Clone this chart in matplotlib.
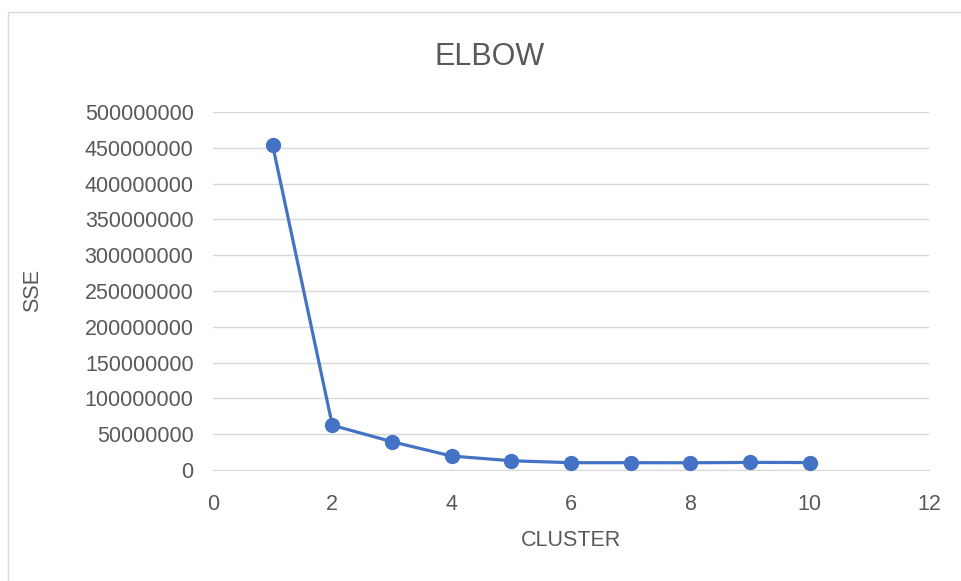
import matplotlib
matplotlib.use("Agg")
import matplotlib.pyplot as plt
from matplotlib.patches import Rectangle

# data
clusters = [1, 2, 3, 4, 5, 6, 7, 8, 9, 10]
sse = [453500000, 62500000, 39500000, 19500000, 12900000,
       10200000, 10200000, 10100000, 10600000, 10400000]
x_ticks = [0, 2, 4, 6, 8, 10, 12]
y_ticks = list(range(0, 500000001, 50000000))

text_col = "#595959"
grid_col = "#D9D9D9"
line_col = "#4472C4"
font = "Liberation Sans"
W, H = 961, 581

fig = plt.figure(figsize=(W / 100, H / 100), dpi=100)
ax = fig.add_axes([213 / W, 1 - 470 / H, (929 - 213) / W, (470 - 112) / H])

# outer chart border
fig.patches.append(Rectangle((8 / W, -0.05), 1.1, 1 - 12 / H + 0.05,
                             transform=fig.transFigure, fill=False,
                             edgecolor=grid_col, linewidth=1))

ax.plot(clusters, sse, color=line_col, linewidth=2.3, marker="o",
        markersize=10, zorder=3, clip_on=False)

ax.set_xlim(0, 12)
ax.set_ylim(0, 500000000)
ax.set_xticks(x_ticks)
ax.set_yticks(y_ticks)
ax.set_xticklabels([str(v) for v in x_ticks])
ax.set_yticklabels([str(v) for v in y_ticks])
ax.grid(axis="y", color=grid_col, linewidth=1)
ax.set_axisbelow(True)
for s in ["top", "right", "left"]:
    ax.spines[s].set_visible(False)
ax.spines["bottom"].set_color(grid_col)
ax.tick_params(length=0, labelsize=15.5, labelcolor=text_col)
ax.tick_params(axis="y", pad=14)
ax.tick_params(axis="x", pad=17)
for lab in ax.get_xticklabels() + ax.get_yticklabels():
    lab.set_fontfamily(font)

fig.text(571 / W, 1 - 541 / H, "CLUSTER", ha="center", va="center",
         fontsize=15.5, color=text_col, family=font)
fig.text(33 / W, 1 - 291 / H, "SSE", ha="center", va="center", rotation=90,
         fontsize=15.5, color=text_col, family=font)
fig.text(490 / W, 1 - 57 / H, "ELBOW", ha="center", va="center",
         fontsize=22, color=text_col, family=font)

fig.savefig("out.png", dpi=100)
